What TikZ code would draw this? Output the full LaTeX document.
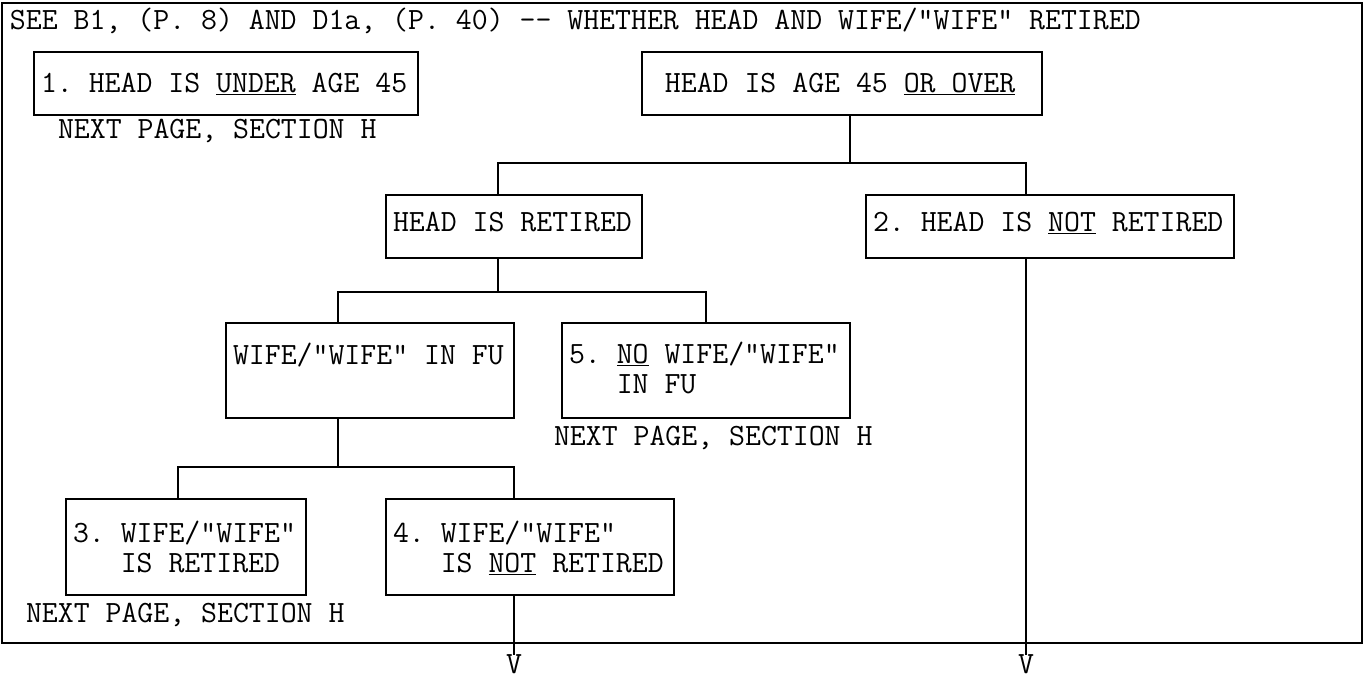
\documentclass[tikz,border=0pt]{standalone}
\newlength\pxu
\setlength\pxu{0.02cm}
\tikzset{
    base/.style={inner sep=0pt, outer sep=0pt, font=\ttfamily\fontsize{17.6pt}{0.6cm}\selectfont\frenchspacing},
    qbox/.style n args={3}{base, draw, line width=0.6pt, anchor=north west, inner xsep=7\pxu, text width=#1, text height=#2, text depth=#3,
        execute at begin node={\spaceskip=0pt\relax\xspaceskip=0pt\relax}},
    note/.style={base, anchor=base west},
    tip/.style={base, anchor=north},
    link/.style={line width=0.6pt}
}

\begin{document}
\begin{tikzpicture}[x=0.02cm, y=-0.02cm]
    \useasboundingbox (0,0) rectangle (1364,681);
    \draw [link] (2,3) rectangle (1362,643);

    \node (title) [note] at (10,29) {SEE B1, (P. 8) AND D1a, (P. 40) -{}- WHETHER HEAD AND WIFE/"WIFE" RETIRED};

    \node (under) [qbox={370\pxu}{40\pxu}{23\pxu}] at (34,52) {1. HEAD IS \underline{UNDER} AGE 45};
    \node (next1) [note] at (58,138) {NEXT PAGE, SECTION H};
    \node (over) [qbox={386\pxu}{40\pxu}{23\pxu}] at (642,52) {\hphantom{H}HEAD IS AGE 45 \underline{OR OVER}};

    \node (retired) [qbox={242\pxu}{36\pxu}{27\pxu}] at (386,195) {HEAD IS RETIRED};
    \node (notret) [qbox={354\pxu}{36\pxu}{27\pxu}] at (866,195) {2. HEAD IS \underline{NOT} RETIRED};

    \node (wife) [qbox={274\pxu}{41\pxu}{54\pxu}] at (226,323) {WIFE/"WIFE" IN FU};
    \node (nowife) [qbox={274\pxu}{40\pxu}{55\pxu}] at (562,323) {5. \underline{NO} WIFE/"WIFE"\\\hphantom{5. }IN FU};
    \node (next5) [note] at (554,445) {NEXT PAGE, SECTION H};

    \node (wret) [qbox={226\pxu}{43\pxu}{53\pxu}] at (66,499) {3. WIFE/"WIFE"\\\hphantom{3. }IS RETIRED};
    \node (wnot) [qbox={274\pxu}{43\pxu}{53\pxu}] at (386,499) {4. WIFE/"WIFE"\\\hphantom{4. }IS \underline{NOT} RETIRED};
    \node (next3) [note] at (26,622) {NEXT PAGE, SECTION H};

    \node (tipA) [tip] at (514,655) {V};
    \node (tipB) [tip] at (1026,655) {V};

    % branch points
    \coordinate (j1) at (850,163);
    \coordinate (j1l) at (498,163);
    \coordinate (j1r) at (1026,163);
    \coordinate (j2) at (498,292);
    \coordinate (j2l) at (338,292);
    \coordinate (j2r) at (706,292);
    \coordinate (j3) at (338,467);
    \coordinate (j3l) at (178,467);
    \coordinate (j3r) at (514,467);

    \draw [link] (over.south -| j1) -- (j1);
    \draw [link] (retired.north -| j1l) -- (j1l) -- (j1r) -- (notret.north -| j1r);
    \draw [link] (retired.south -| j2) -- (j2);
    \draw [link] (wife.north -| j2l) -- (j2l) -- (j2r) -- (nowife.north -| j2r);
    \draw [link] (wife.south -| j3) -- (j3);
    \draw [link] (wret.north -| j3l) -- (j3l) -- (j3r) -- (wnot.north -| j3r);
    \draw [link] (wnot.south -| tipA) -- (tipA);
    \draw [link] (notret.south -| tipB) -- (tipB);
\end{tikzpicture}
\end{document}
